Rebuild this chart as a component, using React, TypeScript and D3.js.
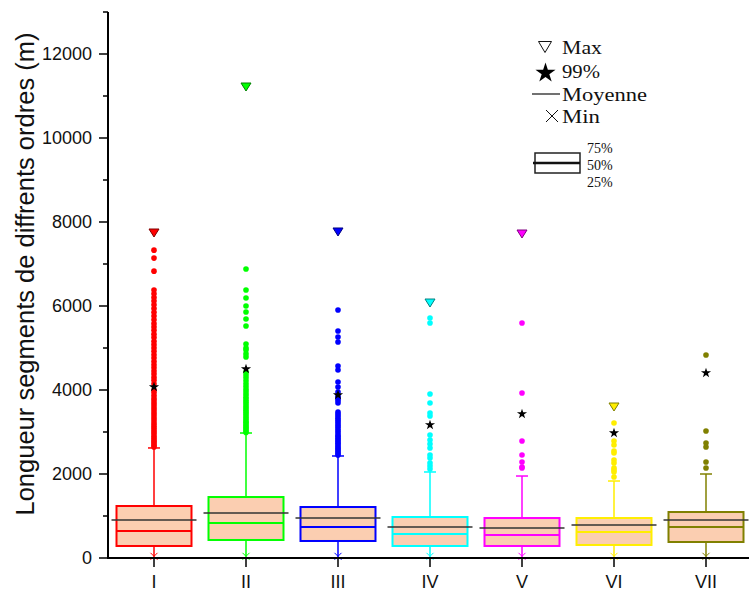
import React from 'react';
import * as d3 from 'd3';

const categories = ['I', 'II', 'III', 'IV', 'V', 'VI', 'VII'];
const colors = ['#ff0000', '#00ff00', '#0000ff', '#00ffff', '#ff00ff', '#ffee00', '#808000'];
const darkColors = ['#800000', '#008000', '#000080', '#008080', '#800080', '#808000', '#404000'];

const q1Values = [286, 429, 405, 286, 286, 310, 381];
const medianValues = [643, 833, 738, 571, 548, 619, 738];
const q3Values = [1238, 1452, 1214, 976, 952, 952, 1095];
const meanValues = [905, 1071, 952, 738, 714, 786, 905];
const whiskerTopValues = [2620, 2976, 2429, 2048, 1952, 1833, 2000];
const minValues = [40, 40, 40, 40, 40, 40, 40];
const maxValues: (number | null)[] = [7738, 11214, 7762, 6071, 7714, 3595, null];
const p99Values = [4071, 4500, 3881, 3167, 3429, 2976, 4405];

const outliersI = [2640, 2680, 2720, 2760, 2800, 2850, 2900, 2950, 3000, 3050, 3100, 3150, 3200, 3260, 3320, 3380,
  3440, 3500, 3560, 3620, 3680, 3740, 3800, 3870, 3940, 4000, 4150, 4230, 4300, 4380, 4450, 4530, 4600, 4680,
  4760, 4840, 4920, 5000, 5080, 5160, 5250, 5330, 5420, 5500, 5580, 5670, 5760, 5850, 5940, 6030, 6120, 6200,
  6290, 6380, 6830, 7140, 7330];
const outliersII = [2990, 3030, 3070, 3110, 3150, 3190, 3230, 3270, 3320, 3370, 3420, 3470, 3520, 3570, 3620,
  3670, 3720, 3770, 3830, 3890, 3950, 4010, 4080, 4150, 4220, 4290, 4360, 4430, 4786, 4860, 4952, 5000, 5095,
  5524, 5690, 5857, 6000, 6190, 6381, 6881];
const outliersIII = [2450, 2490, 2530, 2570, 2610, 2650, 2690, 2730, 2770, 2810, 2850, 2890, 2930, 2980, 3030,
  3080, 3130, 3180, 3230, 3280, 3330, 3380, 3430, 3476, 3690, 3750, 3800, 3850, 3952, 4071, 4190, 4476, 4571,
  5143, 5262, 5405, 5905];
const outliersIV = [2119, 2190, 2262, 2381, 2452, 2619, 2714, 2810, 2929, 3381, 3452, 3690, 3905, 5595, 5714];
const outliersV = [2143, 2167, 2286, 2452, 2786, 3929, 5595];
const outliersVI = [1929, 2048, 2095, 2143, 2262, 2333, 2500, 2548, 2690, 2786, 3214];
const outliersVII = [2143, 2286, 2643, 2738, 3024, 4833];
const outliers = [outliersI, outliersII, outliersIII, outliersIV, outliersV, outliersVI, outliersVII];

const yMajorTicks = [0, 2000, 4000, 6000, 8000, 10000, 12000];
const yMinorTicks = [1000, 3000, 5000, 7000, 9000, 11000, 13000];

const legendItems = ['Max', '99%', 'Moyenne', 'Min'];
const boxLegendLabels = ['75%', '50%', '25%'];

const FILL = '#fbceb1';

function triDown(cx: number, cy: number, w: number, h: number) {
  return `M${cx - w / 2},${cy - h / 2}L${cx + w / 2},${cy - h / 2}L${cx},${cy + h / 2}Z`;
}

export default function App() {
  const W = 749;
  const H = 591;
  const x = d3.scalePoint<string>().domain(categories).range([154, 706]);
  const y = d3.scaleLinear().domain([0, 12000]).range([558, 54]);
  const axisX = 108;
  const boxHalf = 37.5;
  const starSmall = d3.symbol().type(d3.symbolStar).size(32)()!;
  const starBig = d3.symbol().type(d3.symbolStar).size(125)()!;

  return (
    <svg width={W} height={H} style={{ position: 'absolute', left: 0, top: 0, background: '#fff' }}>
      <rect width={W} height={H} fill="#fff" />
      {/* boxes */}
      {categories.map((c, i) => {
        const cx = x(c)!;
        const col = colors[i];
        return (
          <g key={c}>
            <line x1={cx} x2={cx} y1={y(q3Values[i])} y2={y(whiskerTopValues[i])} stroke={col} strokeWidth={1.5} />
            <line x1={cx} x2={cx} y1={y(q1Values[i])} y2={y(minValues[i])} stroke={col} strokeWidth={1.5} />
            <line x1={cx - 6} x2={cx + 6} y1={y(whiskerTopValues[i])} y2={y(whiskerTopValues[i])} stroke={col} strokeWidth={1.5} />
            <rect x={cx - boxHalf} y={y(q3Values[i])} width={boxHalf * 2}
              height={y(q1Values[i]) - y(q3Values[i])} fill={FILL} stroke={col} strokeWidth={2} />
            <line x1={cx - boxHalf} x2={cx + boxHalf} y1={y(medianValues[i])} y2={y(medianValues[i])} stroke={col} strokeWidth={2} />
            <line x1={cx - boxHalf - 5} x2={cx + boxHalf + 5} y1={y(meanValues[i])} y2={y(meanValues[i])} stroke="#333" strokeWidth={1.5} />
            {outliers[i].map((v, j) => (
              <circle key={j} cx={cx} cy={y(v)} r={2.8} fill={col} />
            ))}
            <path d={starSmall} transform={`translate(${cx},${y(p99Values[i])})`} fill="#000" />
            {maxValues[i] !== null && (
              <path d={triDown(cx, y(maxValues[i] as number), 10, 8)} fill={col} stroke={darkColors[i]} strokeWidth={1} />
            )}
            <path d={`M${cx - 3.5},${y(minValues[i]) - 3.5}L${cx + 3.5},${y(minValues[i]) + 3.5}M${cx - 3.5},${y(minValues[i]) + 3.5}L${cx + 3.5},${y(minValues[i]) - 3.5}`}
              stroke={col} strokeWidth={1} />
          </g>
        );
      })}
      {/* y axis */}
      <line x1={axisX} x2={axisX} y1={y(13000)} y2={y(0) + 1} stroke="#000" strokeWidth={2} />
      {yMajorTicks.map(t => (
        <g key={t}>
          <line x1={axisX - 9} x2={axisX} y1={y(t)} y2={y(t)} stroke="#000" strokeWidth={1.5} />
          <text x={92} y={y(t)} dy="0.35em" textAnchor="end" fontFamily="Liberation Sans, Arial, sans-serif" fontSize={18} fill="#111">{t}</text>
        </g>
      ))}
      {yMinorTicks.map(t => (
        <line key={t} x1={axisX - 5} x2={axisX} y1={y(t)} y2={y(t)} stroke="#000" strokeWidth={1.5} />
      ))}
      <text transform={`translate(34,274) rotate(-90)`} textAnchor="middle" fontFamily="Liberation Sans, Arial, sans-serif"
        fontSize={25} fill="#111" textLength={483} lengthAdjust="spacingAndGlyphs">Longueur segments de diffrents ordres (m)</text>
      {/* x axis */}
      <line x1={axisX - 1} x2={W} y1={y(0)} y2={y(0)} stroke="#000" strokeWidth={2} />
      {categories.map(c => (
        <g key={c}>
          <line x1={x(c)!} x2={x(c)!} y1={y(0)} y2={y(0) + 9} stroke="#000" strokeWidth={1.5} />
          <text x={x(c)!} y={588} textAnchor="middle" fontFamily="Liberation Sans, Arial, sans-serif" fontSize={18} fill="#111">{c}</text>
        </g>
      ))}
      {/* legend */}
      <g fontFamily="Liberation Serif, Times New Roman, serif" fill="#111">
        <path d={triDown(545, 47, 13, 11)} fill="none" stroke="#111" strokeWidth={1} />
        <text x={562} y={54} fontSize={19} textLength={40} lengthAdjust="spacingAndGlyphs">{legendItems[0]}</text>
        <path d={starBig} transform="translate(545.5,73)" fill="#000" />
        <text x={562} y={78} fontSize={19} textLength={38} lengthAdjust="spacingAndGlyphs">{legendItems[1]}</text>
        <line x1={532} x2={560} y1={94} y2={94} stroke="#111" strokeWidth={1.2} />
        <text x={562} y={101} fontSize={19} textLength={85} lengthAdjust="spacingAndGlyphs">{legendItems[2]}</text>
        <path d="M546,110L558,122M546,122L558,110" stroke="#111" strokeWidth={1} />
        <text x={562} y={123} fontSize={19} textLength={38} lengthAdjust="spacingAndGlyphs">{legendItems[3]}</text>
        <rect x={535} y={153} width={45} height={20} fill="none" stroke="#222" strokeWidth={1.5} />
        <line x1={533} x2={580} y1={163} y2={163} stroke="#111" strokeWidth={2.5} />
        <text x={587} y={153} fontSize={14}>{boxLegendLabels[0]}</text>
        <text x={587} y={170} fontSize={14}>{boxLegendLabels[1]}</text>
        <text x={587} y={187} fontSize={14}>{boxLegendLabels[2]}</text>
      </g>
    </svg>
  );
}
